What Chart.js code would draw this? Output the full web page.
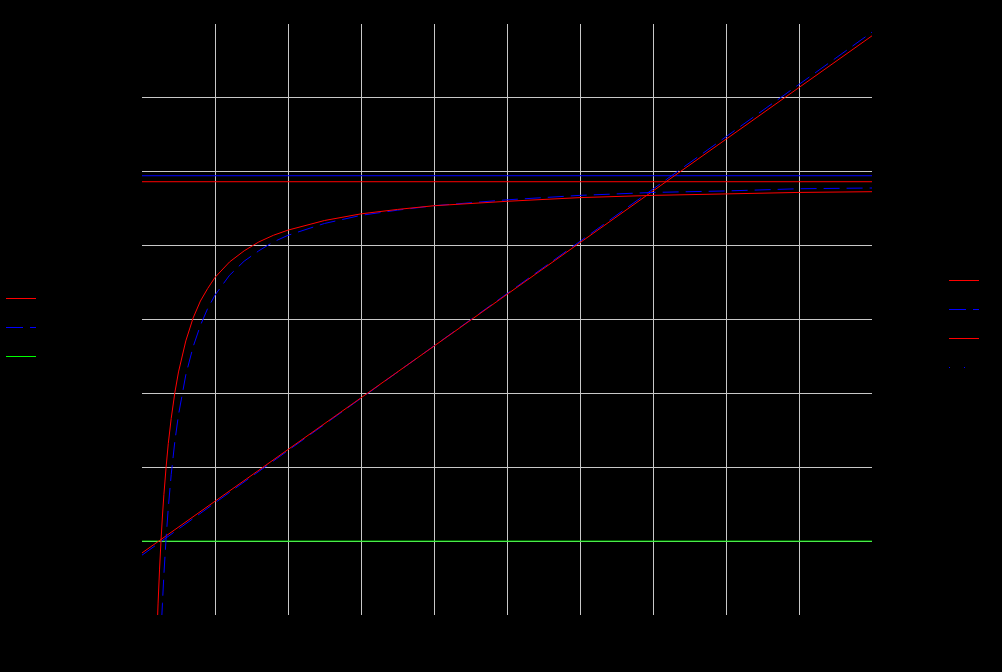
<!DOCTYPE html>
<html>
<head>
<meta charset="utf-8">
<script src="https://cdn.jsdelivr.net/npm/chart.js@4.4.1/dist/chart.umd.min.js"></script>
<style>
  html, body { margin: 0; padding: 0; background: #000; }
  #wrap { width: 1002px; height: 672px; }
</style>
</head>
<body>
<div id="wrap"><canvas id="fitChart"></canvas></div>
<script>
// values
const redCurveX = [0.2, 0.22, 0.24, 0.26, 0.28, 0.3, 0.33, 0.36, 0.4, 0.45, 0.5, 0.6, 0.7, 0.8, 0.9, 1.0, 1.2, 1.4, 1.6, 1.8, 2.0, 2.5, 3, 3.5, 4, 5, 6, 7, 8, 9, 10];
const redCurveY = [-0.39, 0.15, 0.61, 1.0, 1.34, 1.63, 2.0, 2.32, 2.66, 3.01, 3.29, 3.71, 4.02, 4.25, 4.42, 4.57, 4.78, 4.93, 5.05, 5.14, 5.21, 5.34, 5.43, 5.49, 5.54, 5.6, 5.65, 5.68, 5.7, 5.72, 5.73];
const blueCurveX = [0.27, 0.28, 0.3, 0.33, 0.36, 0.4, 0.45, 0.5, 0.6, 0.7, 0.8, 0.9, 1.0, 1.2, 1.4, 1.6, 1.8, 2.0, 2.5, 3, 3.5, 4, 5, 6, 7, 8, 9, 10];
const blueCurveY = [-0.05, 0.16, 0.55, 1.04, 1.45, 1.9, 2.35, 2.71, 3.25, 3.63, 3.92, 4.15, 4.33, 4.6, 4.79, 4.93, 5.05, 5.14, 5.3, 5.41, 5.48, 5.54, 5.62, 5.68, 5.72, 5.74, 5.77, 5.78];
const redLineX = [0, 10];
const redLineY = [0.84, 7.84];
const blueLineX = [0, 10];
const blueLineY = [0.81, 7.89];
const redLevel = 5.865;
const blueLevel = 5.946;
const greenLevel = 1.0;
const xTicks = [0, 1, 2, 3, 4, 5, 6, 7, 8, 9, 10];
const yTicks = [0, 1, 2, 3, 4, 5, 6, 7, 8];

const pts = (xs, ys) => xs.map((x, i) => ({ x: x, y: ys[i] }));
const flat = (v) => [{ x: xTicks[0], y: v }, { x: xTicks[xTicks.length - 1], y: v }];

const leftLegend = [
    { label: 'red', color: '#ff0000', dash: [] },
    { label: 'blue', color: '#0000ff', dash: [17, 7] },
    { label: 'green', color: '#00ff00', dash: [] }
];
const rightLegend = [
    { label: 'red fit', color: '#ff0000', dash: [] },
    { label: 'blue fit', color: '#0000ff', dash: [17, 7] },
    { label: 'red line', color: '#ff0000', dash: [] },
    { label: 'blue line', color: '#0000ff', dash: [1, 14] }
];

// two legends drawn by hand, one each side
const sideLegends = {
    id: 'sideLegends',
    afterDraw(chart) {
        const ctx = chart.ctx;
        const draw = (items, x0, y0) => {
            items.forEach((it, i) => {
                const y = y0 + i * 29 + 0.5;
                ctx.save();
                ctx.strokeStyle = it.color;
                ctx.lineWidth = 1;
                ctx.setLineDash(it.dash);
                ctx.beginPath();
                ctx.moveTo(x0, y);
                ctx.lineTo(x0 + 30, y);
                ctx.stroke();
                ctx.setLineDash([]);
                ctx.fillStyle = '#000';
                ctx.font = '12px "DejaVu Sans"';
                ctx.textBaseline = 'middle';
                ctx.fillText(it.label, x0 + 36, y);
                ctx.restore();
            });
        };
        draw(leftLegend, 6, 298);
        draw(rightLegend, 949, 280);
    }
};

const innerGrid = (ctx) => {
    const n = ctx.chart.scales[ctx.scale.id].ticks.length;
    return (ctx.index === 0 || ctx.index === n - 1) ? 'rgba(0,0,0,0)' : '#c8c8c8';
};

const fitChartCtx = document.getElementById('fitChart').getContext('2d');
const fitChart = new Chart(fitChartCtx, {
    type: 'line',
    data: {
        datasets: [
            {
                label: 'red fit',
                data: pts(redCurveX, redCurveY),
                borderColor: '#ff0000',
                borderWidth: 1
            },
            {
                label: 'blue fit',
                data: pts(blueCurveX, blueCurveY),
                borderColor: '#0000ff',
                borderWidth: 1,
                borderDash: [16, 7]
            },
            {
                label: 'red line',
                data: pts(redLineX, redLineY),
                borderColor: '#ff0000',
                borderWidth: 1
            },
            {
                label: 'blue line',
                data: pts(blueLineX, blueLineY),
                borderColor: '#0000ff',
                borderWidth: 1,
                borderDash: [16, 7]
            },
            {
                label: 'red level',
                data: flat(redLevel),
                borderColor: '#ff0000',
                borderWidth: 1
            },
            {
                label: 'blue level',
                data: flat(blueLevel),
                borderColor: '#0000ff',
                borderWidth: 1
            },
            {
                label: 'green level',
                data: flat(greenLevel),
                borderColor: '#00ff00',
                borderWidth: 1
            }
        ]
    },
    options: {
        responsive: true,
        maintainAspectRatio: false,
        animation: false,
        layout: { padding: { left: 0, right: 130, top: 24, bottom: 0 } },
        elements: { point: { radius: 0 }, line: { tension: 0 } },
        plugins: {
            legend: { display: false },
            tooltip: { enabled: false }
        },
        scales: {
            x: {
                type: 'linear',
                min: xTicks[0],
                max: xTicks[xTicks.length - 1],
                afterBuildTicks: (s) => { s.ticks = xTicks.map(v => ({ value: v })); },
                afterFit: (s) => { s.height = 57; },
                ticks: { color: '#000', font: { size: 12 } },
                grid: { color: innerGrid, drawTicks: false },
                border: { display: false }
            },
            y: {
                type: 'linear',
                min: yTicks[0],
                max: yTicks[yTicks.length - 1],
                afterBuildTicks: (s) => { s.ticks = yTicks.map(v => ({ value: v })); },
                afterFit: (s) => { s.width = 142; },
                ticks: { color: '#000', font: { size: 12 } },
                grid: { color: innerGrid, drawTicks: false },
                border: { display: false }
            }
        }
    },
    plugins: [sideLegends]
});
</script>
</body>
</html>
